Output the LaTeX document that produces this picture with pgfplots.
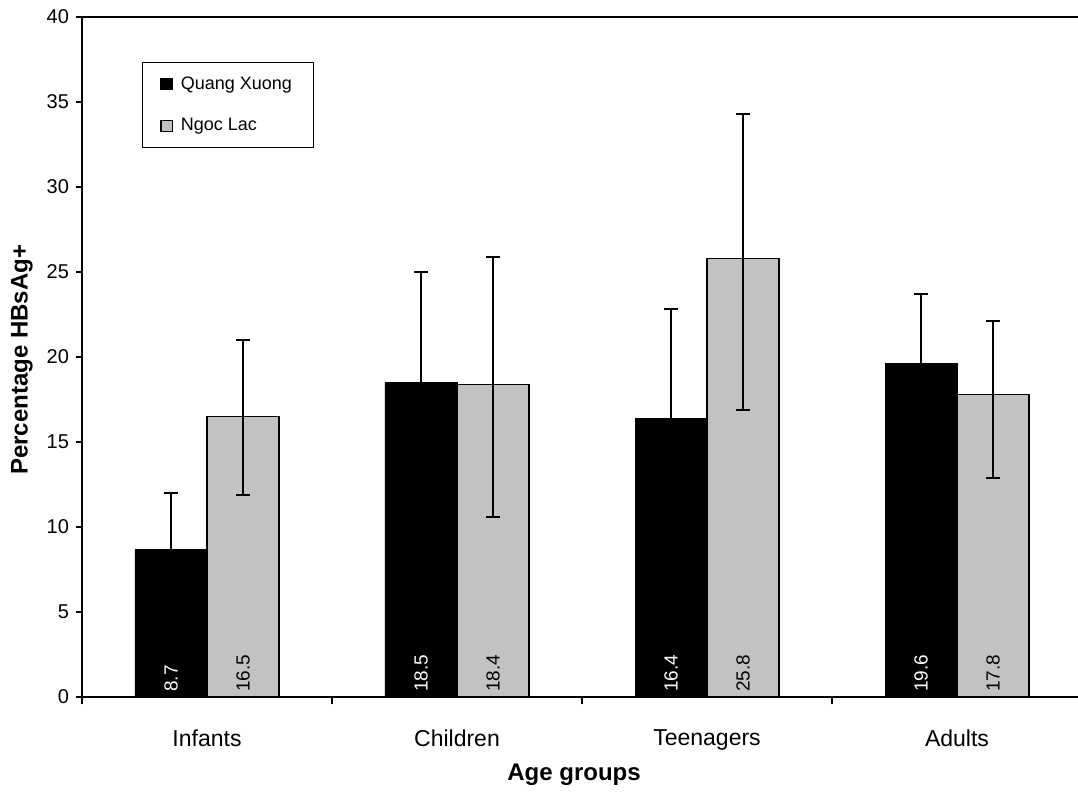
\documentclass[border=0pt]{standalone}
\usepackage{pgfplots}
\pgfplotsset{compat=1.18}
\usepackage{pgfplotstable}
\usepackage{fontspec}
\setmainfont{Liberation Sans}

\pgfplotsset{sqlegend/.style={legend image code/.code={%
  \draw[##1, line width=0.6pt] (0pt,-2.8pt) rectangle (5.6pt,2.8pt);}}}

% group, Quang Xuong value and error, Ngoc Lac value and errors (+/-)
\pgfplotstableread{
x qx   qxe  nl   nlp  nlm
0 8.7  3.3  16.5 4.5  4.6
1 18.5 6.5  18.4 7.5  7.8
2 16.4 6.4  25.8 8.5  8.9
3 19.6 4.1  17.8 4.3  4.9
}\hbv

\begin{document}
\begin{tikzpicture}
\useasboundingbox (-41pt,-48.5pt) rectangle (498pt,348.5pt);
\begin{axis}[
    at={(0,0)}, anchor=south west,
    scale only axis, width=498pt, height=340pt,
    xmin=-0.5, xmax=3.484, ymin=0, ymax=40,
    clip=false,
    axis x line*=bottom, axis y line*=left,
    axis line style={line width=0.9pt},
    /pgf/number format/assume math mode=true,
    ytick={0,5,...,40},
    tick align=outside, major tick length=3pt,
    ytick style={draw=black, line width=0.6pt},
    yticklabel style={font=\fontsize{10}{11}\selectfont},
    xtick={0,1,2,3},
    xticklabels={Infants,Children,Teenagers,Adults},
    xtick style={draw=none},
    xticklabel style={font=\fontsize{11.5}{13}\selectfont, yshift=-10pt},
    extra x ticks={-0.5,0.5,1.5,2.5},
    extra x tick labels={},
    extra x tick style={xtick style={draw=black, line width=0.6pt}, major tick length=3.5pt},
    xlabel={Age groups},
    ylabel={Percentage HBsAg+},
    xlabel style={font=\bfseries\fontsize{12}{14}\selectfont, at={([yshift=-39pt]axis description cs:0.494,0)}, anchor=center},
    ylabel style={font=\bfseries\fontsize{12}{14}\selectfont, at={([xshift=-30pt]axis description cs:0,0.496)}, anchor=center},
    legend style={at={(0.06,0.934)}, anchor=north west, draw=black, line width=0.6pt,
      font=\fontsize{9}{10}\selectfont, inner xsep=9pt, inner ysep=5pt, row sep=9pt,
      /tikz/every odd column/.append style={column sep=2pt}},
    legend cell align=left,
]
\addplot[ybar, bar width=0.288, bar shift=0, fill=black, draw=black, sqlegend,
    error bars/.cd, y dir=plus, y explicit,
    error bar style={draw=black, line width=1pt},
    error mark options={rotate=90, mark size=3.5pt, line width=1pt}]
    table[x expr=\thisrow{x}-0.144, y=qx, y error=qxe] {\hbv};
\addlegendentry{Quang Xuong}
\addplot[ybar, bar width=0.288, bar shift=0, fill=black!24, draw=black, line width=0.7pt, sqlegend,
    error bars/.cd, y dir=both, y explicit,
    error bar style={draw=black, line width=1pt},
    error mark options={rotate=90, mark size=3.5pt, line width=1pt}]
    table[x expr=\thisrow{x}+0.144, y=nl, y error plus=nlp, y error minus=nlm] {\hbv};
\addlegendentry{Ngoc Lac}
% value labels at the foot of each bar
\addplot[draw=none, forget plot, nodes near coords, point meta=explicit,
    every node near coord/.append style={rotate=90, anchor=west, text=white,
      font=\fontsize{9.5}{11}\selectfont, inner sep=2.5pt}]
    table[x expr=\thisrow{x}-0.144, y expr=0, meta=qx] {\hbv};
\addplot[draw=none, forget plot, nodes near coords, point meta=explicit,
    every node near coord/.append style={rotate=90, anchor=west, text=black,
      font=\fontsize{9.5}{11}\selectfont, inner sep=2.5pt}]
    table[x expr=\thisrow{x}+0.144, y expr=0, meta=nl] {\hbv};
\draw[line width=0.9pt] (rel axis cs:0,1) -- (rel axis cs:1,1);
\end{axis}
\end{tikzpicture}
\end{document}
